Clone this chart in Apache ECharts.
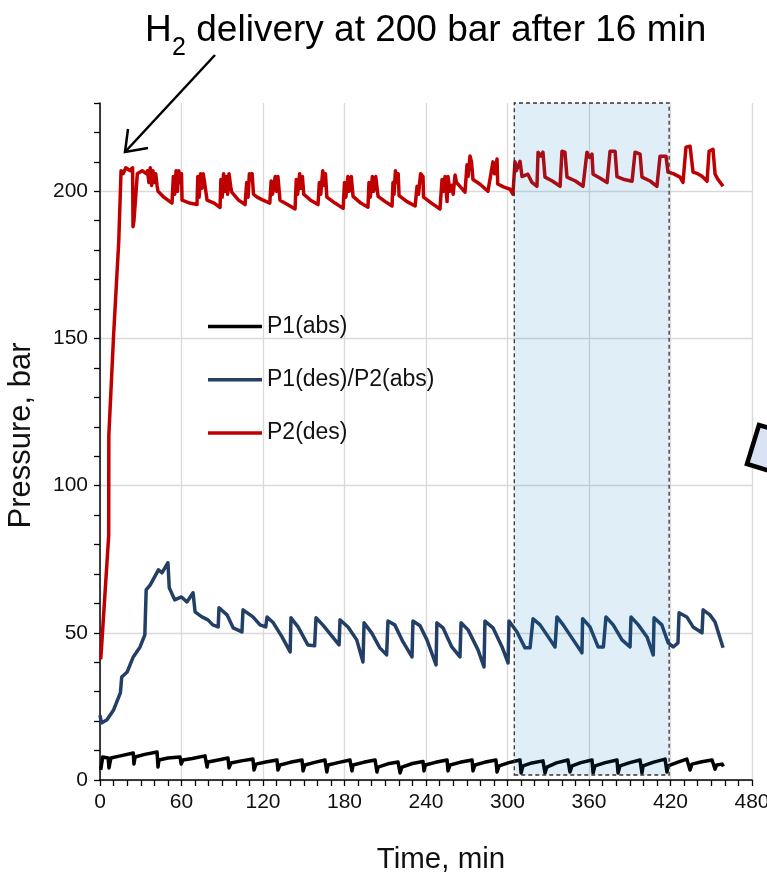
<!DOCTYPE html>
<html>
<head>
<meta charset="utf-8">
<script src="https://cdn.jsdelivr.net/npm/echarts@6/dist/echarts.min.js"></script>
<style>
  html, body { margin: 0; padding: 0; background: #fff; }
  #chart { width: 767px; height: 878px; }
</style>
</head>
<body>
<div id="chart"></div>
<script>
// series names, in legend order
const seriesNames = ['P1(abs)', 'P1(des)/P2(abs)', 'P2(des)']
const seriesColors = ['#000000', '#233f66', '#c00000']

// [time (min), pressure (bar)]
const p1Abs = [
  [0.5, 3.4], [2, 7.8], [6, 7.5], [6.6, 4.1], [8, 7.5], [15, 8.2], [24.5, 9.2], [25, 5.4], [25.8, 7.8],
  [33, 8.7], [42, 9.5], [42.7, 4.4], [43.4, 6.8], [50, 7.5], [58.9, 7.8], [59.8, 5.4], [61, 6.8],
  [68, 7.3], [77.3, 8.2], [78.8, 4.4], [79.5, 6.1], [87, 6.8], [94.2, 7.5], [95, 4.1], [96.4, 5.8],
  [104, 6.5], [112.6, 7.1], [113.4, 3.4], [114.8, 5.4], [122, 6.1], [130.3, 6.8], [131, 3.4], [132.5, 5.1],
  [140, 6], [148.7, 6.8], [149.5, 3.1], [150.9, 5.1], [158, 6], [165.6, 6.8], [167, 2.7], [167.9, 5.1],
  [176, 6], [184, 6.8], [185.5, 3.1], [186.3, 5.1], [194, 6], [202.5, 6.8], [203.9, 2.7], [204.7, 4.4],
  [212, 5.5], [219.4, 6.1], [220.9, 2.4], [222.3, 4.4], [230, 5.6], [237.8, 6.3], [238.5, 3.1], [239.5, 5.1],
  [247, 6], [255.5, 6.8], [256.2, 3.1], [257.7, 5.1], [265, 6], [273.9, 6.8], [274.6, 3.1], [276, 5.1],
  [283, 6], [291.5, 6.8], [292.3, 2.7], [293.8, 4.8], [301, 5.9], [309.2, 6.8], [310, 2.4], [311.4, 4.8],
  [318, 5.8], [326.1, 6.5], [327.6, 2.4], [329, 4.4], [336, 5.8], [344.5, 6.8], [346, 2.7], [347.5, 4.8],
  [354, 5.9], [362.2, 6.8], [363, 2.4], [364.4, 4.8], [372, 5.9], [380.6, 6.8], [381.4, 2.4], [382.8, 4.8],
  [390, 5.9], [397.6, 6.8], [399, 2.4], [399.8, 4.8], [407, 6], [416, 7.1], [417.4, 2.7], [418.2, 4.8],
  [425, 6], [432, 7.1], [434.4, 3.4], [435.8, 5.4], [443, 6.2], [450.6, 6.8], [452.8, 3.7], [454, 5.1],
  [458, 5.4], [459, 4.6]
]

const p1DesP2Abs = [
  [0, 22], [1, 19.4], [5, 20.4], [10, 23.8], [15, 29.6], [16, 35], [20, 36.7], [24.5, 41.8], [29.5, 45.2],
  [33, 49.3], [34, 64.6], [37, 66.3], [43, 71.4], [45.6, 70.4], [50, 73.8], [51, 65.3], [55, 61.2], [60, 62.2],
  [64, 60.5], [68.5, 63.6], [70, 57.1], [75, 55.4], [79.5, 54.4], [83, 52.7], [87, 52], [87.6, 58.5],
  [93.5, 56.1], [98, 51.7], [104.5, 50.3], [105.3, 57.8], [112.6, 55.4], [117.8, 52.7], [122, 52], [123, 55.4],
  [127.6, 53.4], [134, 48.6], [140, 43.5], [140.6, 55.1], [145.8, 52], [153, 45.9], [158, 45.6], [159, 55.1],
  [164, 52.7], [173, 47.6], [176, 45.9], [176.7, 54.4], [182.6, 52], [189, 47.6], [193.6, 40.1], [194.4, 53.4],
  [200, 50], [206, 44.9], [211, 42.5], [212, 54], [217, 52.7], [223, 47], [229.7, 41.8], [230.4, 54],
  [235.6, 52.4], [240.7, 47.6], [247.4, 39.1], [248, 53.4], [252.5, 51.7], [259, 45.2], [265, 41.8], [265.8, 53.4],
  [271, 51], [278.3, 44.2], [282.7, 38.4], [283.4, 54], [289.3, 51.7], [296, 45.2], [300.4, 39.8], [301.1, 54],
  [307, 50.3], [312.9, 44.9], [316.6, 44.9], [318.8, 54.8], [324, 52.7], [329, 49.3], [335, 45.2], [336.4, 55.4],
  [341, 52.7], [348.4, 47.6], [354.8, 43.2], [355.3, 54.8], [360.7, 52], [366.7, 45.2], [370.6, 45.2], [372.5, 55.4],
  [377.8, 52.7], [384.3, 47.6], [390.2, 45.2], [390.9, 55.4], [396.3, 52.7], [402.7, 48.6], [407.3, 42.5], [407.9, 55.1],
  [413.6, 52.7], [418.3, 46.6], [422, 45.2], [425.5, 46.6], [426.3, 56.8], [432, 55.4], [436.6, 52], [443.2, 50],
  [444, 57.8], [449, 56.1], [452.8, 53.7], [458.7, 44.9]
]

const p2Des = [
  [0.5, 41], [1, 44], [6.4, 83], [6.5, 117], [10, 151], [13.8, 183], [15.5, 207], [17, 206], [19, 208], [22, 207],
  [24, 208], [24.3, 188], [25, 190], [27.5, 206], [31, 207], [34, 206],
  [35, 207], [36, 203], [37, 208], [38, 202], [39, 207], [40, 203], [41, 206], [42, 202], [42.7, 200], [47, 198], [53, 196],
  [54, 205], [55, 199], [56, 207], [57, 200], [58, 207], [59, 203], [60, 206], [60.4, 197], [66, 196], [71.4, 195.5],
  [72, 205], [73, 198], [74, 206], [75, 201], [76, 206], [77, 203], [78.8, 197], [84, 196], [88.4, 194.5],
  [89, 204], [90, 198], [91, 206], [92, 200], [93, 205], [94, 199], [95, 206], [96.4, 201], [97, 199.7], [102, 197], [106.8, 195.5],
  [108, 203], [109, 198], [110, 206], [111, 204], [112, 206], [113, 199], [115.6, 198], [120, 197], [125, 196],
  [126, 203.5], [127, 199], [129, 205], [130, 200], [131, 205], [132.5, 197], [138, 195.5], [143.6, 194],
  [144.5, 204], [145.5, 199], [147, 206], [148, 201], [149, 205], [150, 199], [155, 197], [160.5, 195.5],
  [161.5, 203], [162.5, 199], [164, 207], [165, 202], [166, 206], [167, 198], [173, 196], [179, 194.2],
  [180, 203], [181, 198], [182.5, 205], [183.5, 200], [185, 205], [186.3, 198.3], [192, 196], [197.3, 194.6],
  [198, 203], [199, 198], [200.5, 205], [201.5, 200], [203, 205], [204.7, 198.3], [210, 196.5], [215, 195],
  [215.7, 203], [216.5, 199], [217.5, 207], [218.5, 203], [219.5, 206], [220.2, 198.5], [226, 196.5], [232, 195],
  [233.4, 201.7], [234.5, 199], [236, 206], [237.8, 205], [238.2, 198], [244, 196], [250.3, 194],
  [251.8, 204], [253, 200], [254, 205], [255.5, 196.5], [256.2, 205], [257.5, 200], [259, 202], [260, 199],
  [261.4, 205.5], [262.5, 203], [265, 201.7], [268.7, 199.7],
  [270.2, 209], [271, 205], [272.4, 212], [273.5, 210], [274.6, 204], [279.8, 202.4], [285.6, 200],
  [289.3, 210], [290.5, 206], [292.3, 211], [292.8, 202.5], [297, 201.5], [301.9, 200.7], [304, 199],
  [305.5, 210], [306.5, 207], [309.2, 210.2], [310.7, 205], [315, 205.8], [318, 203], [321.7, 201.7],
  [322.5, 213.3], [324.5, 212], [326.1, 213.3], [327.6, 204.8], [333, 203.5], [338.7, 201.7],
  [340.1, 213.6], [342.3, 213.3], [343.8, 204.8], [350, 203.5], [355.6, 201.7],
  [358.5, 213.3], [360.5, 211.5], [362.2, 212.6], [363, 205.8], [368, 204.5], [373.3, 203],
  [375.5, 213.6], [379.2, 213.6], [380.6, 205], [386, 204], [391.7, 203.4],
  [393.9, 213.3], [397.6, 212.6], [399, 204.8], [405, 203.5], [410, 201.7],
  [412.3, 211.9], [416.7, 211.9], [418.2, 206.5], [422, 206], [427, 204.8], [429.2, 203],
  [431.4, 215], [434.4, 215.3], [436.6, 206.5], [440, 206], [443.2, 205.1], [446.9, 203.4],
  [448.4, 213.6], [451.3, 214.3], [452.8, 205.8], [455, 204], [458.7, 201.7]
]

// axes
const xMin = 0, xMax = 480, xMajor = 60, xMinor = 10
const yMin = 0, yMax = 230, yMajor = 50, yMinor = 10
// highlighted window [t0, t1] and its vertical span in bar
const windowTime = [305, 419]
const windowPressure = [1.7, 230]

const titleMain = ' delivery at 200 bar after 16 min'
const fontFamily = '"Liberation Sans", Arial, sans-serif'
const gridColor = '#d9d9d9'

// split lines only on major ticks (ticks are every minor step)
function majorOnly(major, minor) {
  let colors = []
  for (let i = 0; i < major / minor; i++) colors.push(i === 0 ? gridColor : 'rgba(0,0,0,0)')
  return colors
}

const chart = echarts.init(document.getElementById('chart'), null, {renderer: 'canvas'})

const lineSeries = [p1Abs, p1DesP2Abs, p2Des].map((data, i) => ({
  name: seriesNames[i],
  type: 'line',
  data: data,
  color: seriesColors[i],
  showSymbol: false,
  symbol: 'none',
  lineStyle: {width: 3.5, color: seriesColors[i], join: 'round'},
  z: 3 + i
}))

lineSeries.push({
  type: 'line',
  data: [],
  z: 20,
  silent: true,
  markArea: {
    silent: true,
    z: 20,
    itemStyle: {
      color: 'rgba(0, 112, 192, 0.12)',
      borderColor: '#333',
      borderWidth: 1.3,
      borderType: [4, 3]
    },
    data: [[
      {xAxis: windowTime[0], yAxis: windowPressure[0]},
      {xAxis: windowTime[1], yAxis: windowPressure[1]}
    ]]
  }
})

chart.setOption({
  animation: false,
  backgroundColor: '#fff',
  textStyle: {fontFamily},
  grid: {left: 100, right: 15, top: 103, bottom: 98, containLabel: false, outerBoundsMode: 'none'},
  legend: {
    data: seriesNames,
    orient: 'vertical',
    left: 208,
    top: 314,
    padding: 0,
    itemWidth: 54,
    itemHeight: 3.5,
    itemGap: 28.3,
    icon: 'rect',
    textStyle: {fontSize: 23, color: '#111', lineHeight: 25, fontFamily}
  },
  xAxis: {
    type: 'value',
    min: xMin,
    max: xMax,
    interval: xMinor,
    name: 'Time, min',
    nameLocation: 'middle',
    nameGap: 65,
    nameTextStyle: {fontSize: 29.5, color: '#111', fontFamily, padding: [0, 0, 0, 30]},
    axisLine: {lineStyle: {color: '#000', width: 1.5}},
    axisTick: {show: true, length: 6, lineStyle: {color: '#000', width: 1.3}},
    axisLabel: {
      fontSize: 21, color: '#111', margin: 12,
      formatter: v => (v % xMajor === 0 ? String(v) : '')
    },
    splitLine: {show: true, lineStyle: {color: majorOnly(xMajor, xMinor), width: 1.3}}
  },
  yAxis: {
    type: 'value',
    min: yMin,
    max: yMax,
    interval: yMinor,
    name: 'Pressure, bar',
    nameLocation: 'middle',
    nameGap: 63,
    nameTextStyle: {fontSize: 31, color: '#111', fontFamily, padding: [0, 0, 0, 12]},
    axisLine: {show: true, lineStyle: {color: '#000', width: 1.5}},
    axisTick: {show: true, length: 6, lineStyle: {color: '#000', width: 1.3}},
    axisLabel: {
      fontSize: 21, color: '#111', margin: 12,
      formatter: v => (v % yMajor === 0 ? String(v) : '')
    },
    splitLine: {show: true, lineStyle: {color: majorOnly(yMajor, yMinor), width: 1.3}}
  },
  graphic: [
    // annotation text with subscript
    {type: 'text', left: 145, top: 12, style: {text: 'H', font: '37px ' + fontFamily, fill: '#000'}},
    {type: 'text', left: 172, top: 36, style: {text: '2', font: '25px ' + fontFamily, fill: '#000'}},
    {type: 'text', left: 186, top: 12, style: {text: titleMain, font: '37px ' + fontFamily, fill: '#000'}},
    // arrow to the delivery point
    {type: 'line', shape: {x1: 215, y1: 55, x2: 125, y2: 152}, style: {stroke: '#000', lineWidth: 2.5}},
    {type: 'polyline', shape: {points: [[128, 129], [125, 152], [148, 148]]}, style: {stroke: '#000', lineWidth: 2.5, fill: null}},
    // shape cut off at the right edge
    {type: 'polygon', shape: {points: [[759, 425], [747, 464], [800, 480], [812, 441]]},
      style: {fill: '#dae3f3', stroke: '#000', lineWidth: 4.5}, z: 30}
  ],
  series: lineSeries
})
</script>
</body>
</html>
